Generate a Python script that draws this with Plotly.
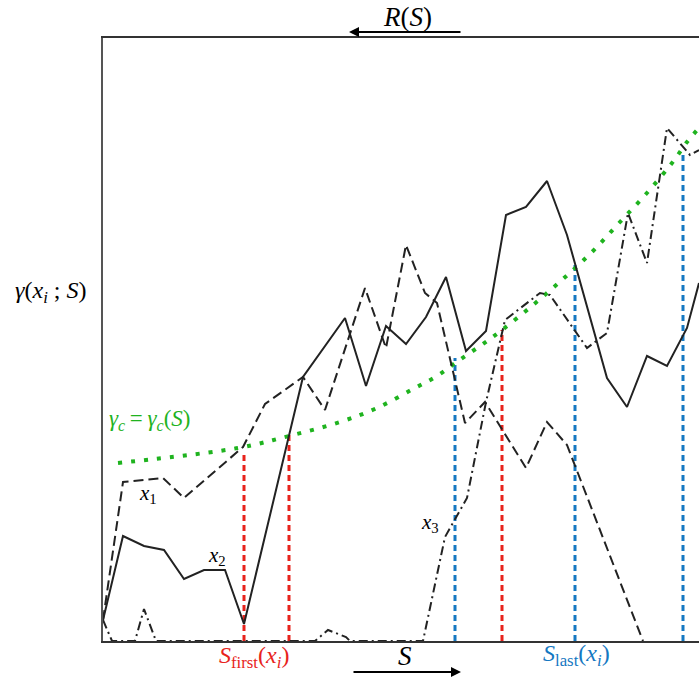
import plotly.graph_objects as go

# ---- data (S along horizontal, gamma vertical; arbitrary units) ----
x1_S = [0, 20, 60, 81, 140, 162, 200, 222, 262, 283, 303, 322, 334, 362, 382, 423, 444, 464, 540]
x1_g = [21, 159, 163, 143, 194, 237, 264, 231, 353, 293, 396, 348, 338, 218, 239, 173, 219, 196, 0]

x2_S = [0, 20, 41, 61, 81, 101, 122, 141, 200, 242, 263, 283, 303, 323, 343, 363, 383,
        403, 423, 444, 464, 504, 524, 544, 564, 584, 596]
x2_g = [21, 105, 95, 91, 62, 71, 71, 17, 264, 323, 255, 315, 297, 324, 364, 290, 310,
        426, 434, 460, 406, 263, 234, 285, 275, 313, 358]

x3_S = [0, 9, 32, 41, 53, 212, 225, 243, 247, 320, 342, 364, 383, 402, 437, 447, 484,
        504, 525, 544, 564, 587, 596]
x3_g = [21, 0, 0, 32, 0, 0, 11, 4, 0, 0, 104, 143, 239, 321, 348, 346, 293,
        308, 428, 378, 513, 486, 491]

gc_S = [15, 135, 186, 237, 274, 310, 334, 355, 377, 399, 430, 460, 489, 516, 543, 569, 584, 596]
gc_g = [178, 193, 205, 219, 233, 252, 265, 280, 295, 311, 336, 362, 389, 418, 447, 478, 499, 513]

first_S = [141, 186, 399]
first_top = [190, 207, 311]
last_S = [352, 472, 580]
last_top = [283, 379, 489]

RED = "#e8231c"
BLUE = "#1578c2"
GREEN = "#1fb31f"
FONT = "Times New Roman, Liberation Serif, DejaVu Serif, serif"

W, H = 699, 679
ML, MR, MT, MB = 103, 0, 38, 38
PW, PH = W - ML - MR, H - MT - MB


def px(xp, yp):
    """window pixel -> paper coords"""
    return (xp - ML) / PW, 1 - (yp - MT) / PH


def verticals(xs, tops):
    vx, vy = [], []
    for s, t in zip(xs, tops):
        vx += [s, s, None]
        vy += [0, t, None]
    return vx, vy


fig = go.Figure()

rx, ry = verticals(first_S, first_top)
bx, by = verticals(last_S, last_top)
fig.add_trace(go.Scatter(x=rx, y=ry, mode="lines",
                         line=dict(color=RED, width=3, dash="6px,4px")))
fig.add_trace(go.Scatter(x=bx, y=by, mode="lines",
                         line=dict(color=BLUE, width=3, dash="6px,4px")))

fig.add_trace(go.Scatter(x=gc_S, y=gc_g, mode="lines", line_shape="spline",
                         line=dict(color=GREEN, width=4, dash="4px,9px")))

fig.add_trace(go.Scatter(x=x1_S, y=x1_g, mode="lines",
                         line=dict(color="#222222", width=2, dash="10px,5px")))
fig.add_trace(go.Scatter(x=x2_S, y=x2_g, mode="lines",
                         line=dict(color="#222222", width=2)))
fig.add_trace(go.Scatter(x=x3_S, y=x3_g, mode="lines",
                         line=dict(color="#222222", width=2, dash="9px,4px,2px,4px")))

ann = []


def txt(xp, yp, text, size=20, color="black", xanchor="center"):
    x, y = px(xp, yp)
    ann.append(dict(x=x, y=y, xref="paper", yref="paper", text=text, showarrow=False,
                    xanchor=xanchor, yanchor="middle",
                    font=dict(family=FONT, size=size, color=color)))


txt(407, 17, "<i>R</i>(<i>S</i>)", size=27)
txt(405, 656, "<i>S</i>", size=27)
txt(50, 292, "<i>γ</i>(<i>x<sub>i</sub></i> ; <i>S</i>)", size=24)
txt(107, 420, "<i>γ<sub>c</sub></i>\u2009=\u2009<i>γ<sub>c</sub></i>(<i>S</i>)", size=23, color=GREEN, xanchor="left")
txt(148, 494, "<i>x</i><sub>1</sub>", size=21)
txt(217, 556, "<i>x</i><sub>2</sub>", size=21)
txt(430, 523, "<i>x</i><sub>3</sub>", size=21)
txt(254, 657, "<i>S</i><sub>first</sub>(<i>x<sub>i</sub></i>)", size=24, color=RED)
txt(576, 655, "<i>S</i><sub>last</sub>(<i>x<sub>i</sub></i>)", size=24, color=BLUE)


def arrow(x_head, x_tail, yp):
    hx, hy = px(x_head, yp)
    ann.append(dict(x=hx, y=hy, ax=x_tail - x_head, ay=0, xref="paper", yref="paper",
                    axref="pixel", ayref="pixel", text="", showarrow=True,
                    arrowhead=2, arrowsize=1, arrowwidth=2, arrowcolor="black"))


arrow(349, 462, 32)
arrow(461, 352, 672)

fig.update_layout(
    width=W, height=H,
    margin=dict(l=ML, r=MR, t=MT, b=MB),
    paper_bgcolor="white", plot_bgcolor="white",
    showlegend=False,
    annotations=ann,
    xaxis=dict(range=[0, 596], showgrid=False, zeroline=False, showticklabels=False,
               ticks="", showline=True, linecolor="#333333", linewidth=1.5, mirror=True),
    yaxis=dict(range=[0, 603], showgrid=False, zeroline=False, showticklabels=False,
               ticks="", showline=True, linecolor="#555555", linewidth=1.5),
)

fig.write_html("out.html", config={"displayModeBar": False},
               post_script="document.body.style.margin='0';document.body.style.overflow='hidden';")
